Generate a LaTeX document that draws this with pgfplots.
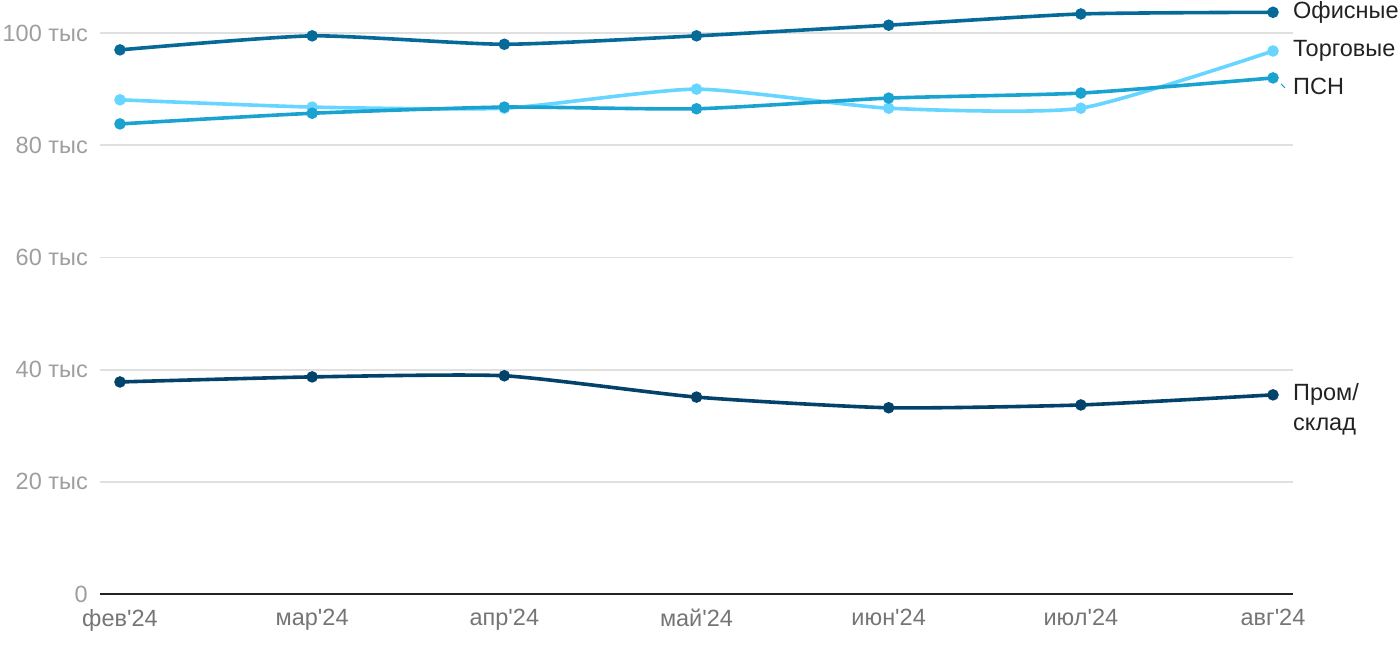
\documentclass[border=0pt]{standalone}
\usepackage{fontspec}
\setmainfont{Liberation Sans}
\newfontfamily\rob{Liberation Sans}
\usepackage{pgfplots}
\pgfplotsset{compat=1.18}
\definecolor{office}{HTML}{066A98}
\definecolor{torg}{HTML}{66D5FF}
\definecolor{psn}{HTML}{1AA3D1}
\definecolor{prom}{HTML}{03426A}
\definecolor{ygray}{HTML}{9E9E9E}
\definecolor{xgray}{HTML}{757575}
\definecolor{gridc}{HTML}{E0E0E0}
\definecolor{labc}{HTML}{222222}
\begin{document}
\begin{tikzpicture}
\path[use as bounding box] (0,0) rectangle (1400pt,650pt);
\begin{axis}[
  at={(100pt,56pt)}, anchor=south west,
  width=1193pt, height=589pt, scale only axis,
  xmin=-0.104, xmax=6.104, ymin=0, ymax=105,
  clip=false,
  axis line style={draw=none},
  major tick length=0pt,
  ymajorgrids, grid style={gridc, line width=1.8pt},
  xtick={0,...,6},
  xticklabels={фев'24,мар'24,апр'24,май'24,июн'24,июл'24,авг'24},
  ytick={0,20,40,60,80,100},
  yticklabels={0,20 тыс,40 тыс,60 тыс,80 тыс,100 тыс},
  yticklabel style={font=\rob\fontsize{23.5}{23.5}\selectfont, text=ygray, inner sep=0pt, anchor=east, xshift=-12pt},
  xticklabel style={font=\rob\fontsize{23.5}{23.5}\selectfont, text=xgray, inner sep=0pt, anchor=north, yshift=-15pt},
]
\draw[labc, line width=2.5pt] (axis cs:-0.104,0) -- (axis cs:6.104,0);
\addplot[torg, line width=3.6pt, smooth, tension=0.35, mark=*, mark size=5pt, mark options={solid, fill=torg, draw=torg, line width=1.5pt}]
  coordinates {(0,88.1) (1,86.8) (2,86.6) (3,90.0) (4,86.6) (5,86.6) (6,96.8)};
\addplot[psn, line width=3.6pt, smooth, tension=0.35, mark=*, mark size=5pt, mark options={solid, fill=psn, draw=psn, line width=1.5pt}]
  coordinates {(0,83.8) (1,85.7) (2,86.8) (3,86.5) (4,88.4) (5,89.3) (6,92.0)};
\addplot[office, line width=3.6pt, smooth, tension=0.35, mark=*, mark size=5pt, mark options={solid, fill=office, draw=office, line width=1.5pt}]
  coordinates {(0,97.0) (1,99.5) (2,98.0) (3,99.5) (4,101.4) (5,103.4) (6,103.7)};
\addplot[prom, line width=3.6pt, smooth, tension=0.35, mark=*, mark size=5pt, mark options={solid, fill=prom, draw=prom, line width=1.5pt}]
  coordinates {(0,37.8) (1,38.7) (2,38.9) (3,35.1) (4,33.2) (5,33.7) (6,35.5)};
\node[anchor=west, inner sep=0pt, xshift=20pt, font=\fontsize{23.5}{23.5}\selectfont, text=labc] at (axis cs:6,103.7) {Офисные};
\node[anchor=west, inner sep=0pt, xshift=20pt, font=\fontsize{23.5}{23.5}\selectfont, text=labc] at (axis cs:6,96.8) {Торговые};
\node[anchor=west, inner sep=0pt, xshift=20pt, font=\fontsize{23.5}{23.5}\selectfont, text=labc] at (axis cs:6,90.55) {ПСН};
\draw[psn, line width=1pt] (axis cs:6,92.0) ++(8pt,-6pt) -- ++(4pt,-4pt);
\node[anchor=west, inner sep=0pt, xshift=20pt, font=\fontsize{23.5}{23.5}\selectfont, text=labc] at (axis cs:6,35.5) {Пром/};
\node[anchor=west, inner sep=0pt, xshift=20pt, yshift=-32pt, font=\fontsize{23.5}{23.5}\selectfont, text=labc] at (axis cs:6,35.5) {склад};
\end{axis}
\end{tikzpicture}
\end{document}
